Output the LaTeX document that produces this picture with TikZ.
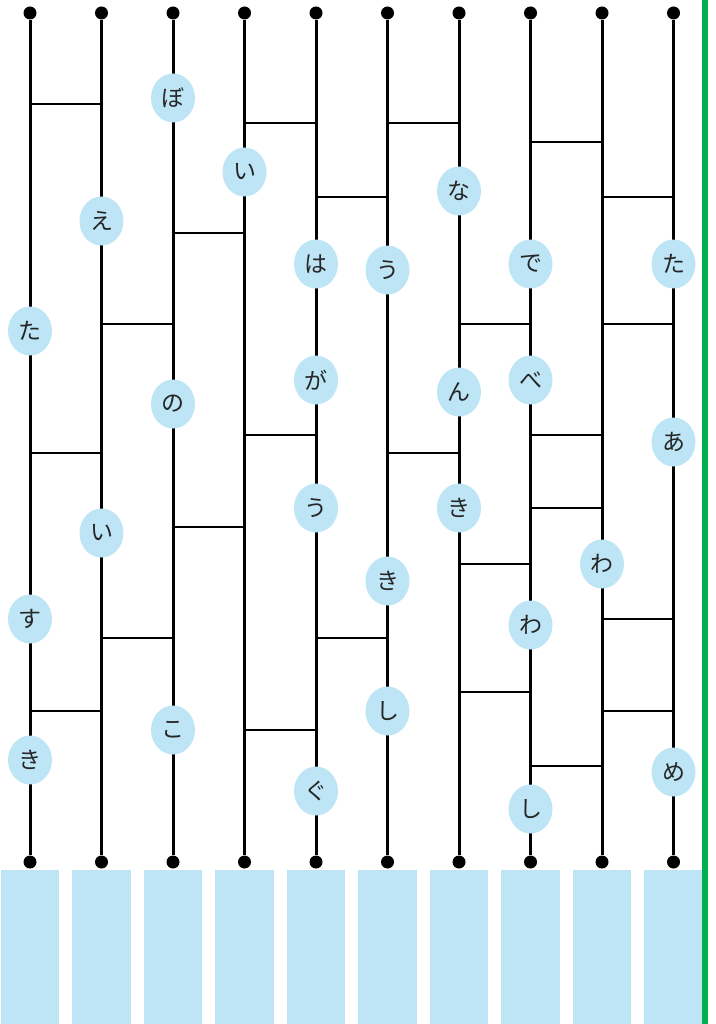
\documentclass[tikz,border=0pt]{standalone}
\usepackage{fontspec}
\newfontfamily\jpfont{Noto Sans CJK JP}
\usetikzlibrary{shapes.geometric}
\definecolor{kanablue}{HTML}{BDE5F5}
\definecolor{edgegreen}{HTML}{00B050}

\begin{document}
\begin{tikzpicture}[x=1pt,y=-1pt,
    dot/.style={circle,fill=black,inner sep=0pt,minimum size=13pt},
    rail/.style={line width=3pt},
    rung/.style={line width=2.8pt},
    kana/.style={ellipse,fill=kanablue,inner sep=0pt,minimum width=44pt,minimum height=49pt,
      text=black!85,font=\jpfont\fontsize{23}{23}\selectfont},
    slot/.style={fill=kanablue,inner sep=0pt,minimum width=58.5pt,minimum height=154pt}]
  \useasboundingbox (0,0) rectangle (715,1024);
  % rails, end dots and the boxes below
  \foreach \i in {1,...,10} {
    \node[dot] (t\i) at ({30+71.5*(\i-1)},13) {};
    \node[dot] (b\i) at ({30+71.5*(\i-1)},862) {};
    \draw[rail] (t\i) -- (b\i);
    \node[slot] (s\i) at ({30+71.5*(\i-1)},947) {};
  }
  % rungs: left rail / height
  \foreach \a/\y [evaluate=\a as \b using int(\a+1)] in {1/104,4/123,6/123,8/142,5/197,9/197,
      3/233,2/324,7/324,9/324,4/435,8/435,1/453,6/453,8/508,3/527,7/564,9/619,2/638,5/638,
      7/692,1/711,9/711,4/730,8/766}
    \draw[rung] (t\a |- 0,\y) -- (t\b |- 0,\y);
  % kana on the rails
  \foreach \i/\y/\k [count=\n] in {1/331/た,1/619/す,1/760/き,2/221/え,2/533/い,3/98/ぼ,3/404/の,
      3/730/こ,4/172/い,5/264/は,5/380/が,5/508/う,5/791/ぐ,6/270/う,6/581/き,6/711/し,7/191/な,
      7/392/ん,7/508/き,8/264/で,8/380/べ,8/625/わ,8/809/し,9/564/わ,10/264/た,10/442/あ,10/772/め}
    \node[kana] (k\n) at (t\i |- 0,\y) {\k};
  \draw[edgegreen,line width=5.5pt] (705,0) -- (705,1024);
\end{tikzpicture}
\end{document}
